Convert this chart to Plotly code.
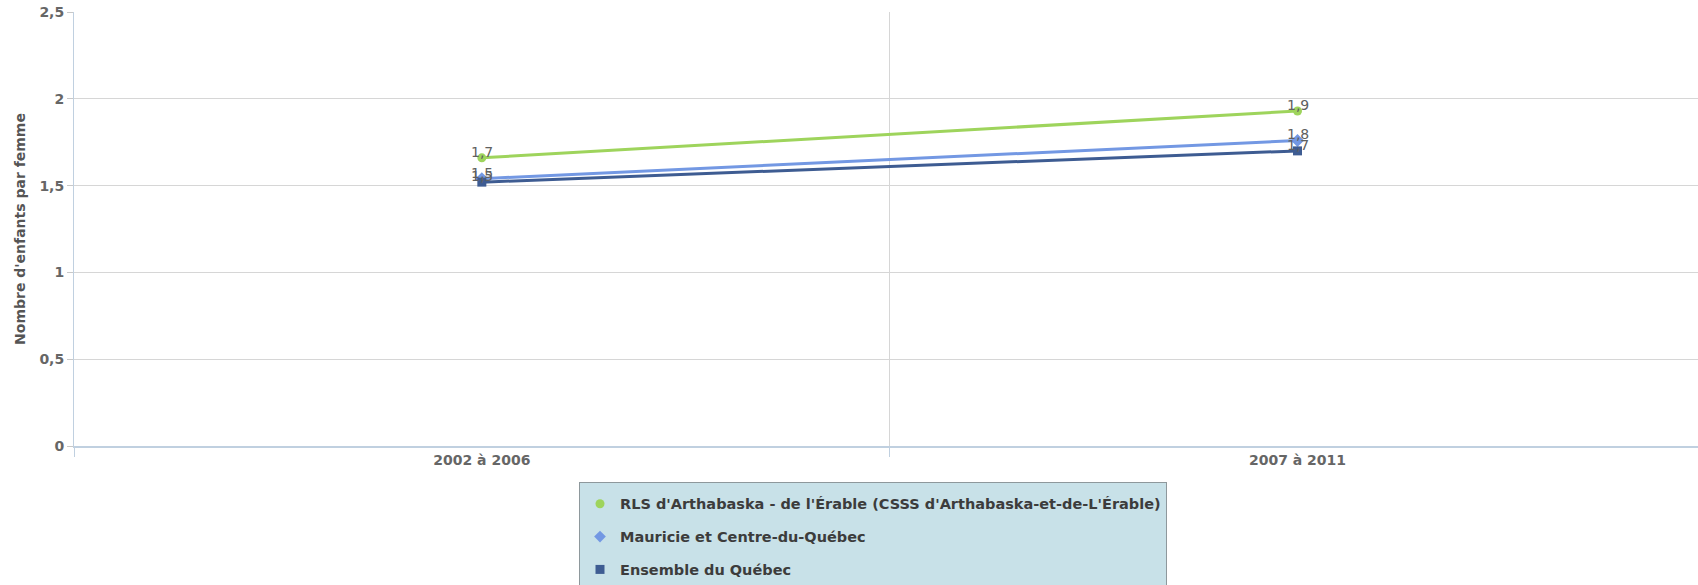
import plotly.graph_objects as go

# Periods on the category axis
periods = ["2002 à 2006", "2007 à 2011"]

# Synthetic fertility index (children per woman)
series_names = [
    "RLS d'Arthabaska - de l'Érable (CSSS d'Arthabaska-et-de-L'Érable)",
    "Mauricie et Centre-du-Québec",
    "Ensemble du Québec",
]
rls_values = [1.66, 1.93]
mauricie_values = [1.54, 1.76]
quebec_values = [1.52, 1.70]

series_values = [rls_values, mauricie_values, quebec_values]
series_colors = ["#9ED45C", "#7398E3", "#3E5C92"]
series_symbols = ["circle", "diamond", "square"]
symbol_sizes = [9, 10, 9]

y_ticks = [0, 0.5, 1, 1.5, 2, 2.5]

fig = go.Figure()

for name, vals, color, sym, size in zip(series_names, series_values,
                                        series_colors, series_symbols, symbol_sizes):
    fig.add_trace(go.Scatter(
        x=periods, y=vals, mode="lines+markers", name=name,
        line=dict(color=color, width=3),
        marker=dict(symbol=sym, size=size, color=color),
        showlegend=False, hoverinfo="skip",
    ))

# Legend entries show the marker symbol only
for i, (name, color, sym) in enumerate(zip(series_names, series_colors, series_symbols)):
    fig.add_trace(go.Scatter(
        x=[None], y=[None], mode="markers", name=name,
        marker=dict(symbol=sym, size=9, color=color),
        legendgroup=f"g{i}", showlegend=True,
    ))

# Value labels above each point
for vals in series_values:
    for p, v in zip(periods, vals):
        fig.add_annotation(
            x=p, y=v, text=f"{v:.1f}".replace(".", ","),
            showarrow=False, yanchor="middle", yshift=6,
            font=dict(family="DejaVu Sans", size=14, color="#606060"),
        )

fig.update_layout(
    width=1698, height=585,
    margin=dict(l=74, r=0, t=12, b=139, autoexpand=False),
    paper_bgcolor="white", plot_bgcolor="white",
    separators=", ",
    showlegend=True,
    legend=dict(
        x=(579 - 74) / 1624, y=-0.082, xanchor="left", yanchor="top",
        bgcolor="#C8E1E8", bordercolor="#8E989C", borderwidth=1,
        font=dict(family="DejaVu Sans", size=14.5, color="#3C3C3C", weight="bold"),
        title=dict(text=" ", font=dict(size=4)),
        traceorder="grouped", tracegroupgap=11, itemwidth=30,
    ),
    xaxis=dict(
        type="category", categoryorder="array", categoryarray=periods,
        range=[-0.5, 1.491],
        tickson="boundaries", ticks="outside", ticklen=9, tickcolor="#C0D0E0",
        showgrid=True, gridcolor="#D6D6D6", gridwidth=1,
        showline=True, linecolor="#C0D0E0", linewidth=2,
        tickfont=dict(family="DejaVu Sans", size=14, color="#666666", weight="bold"),
        fixedrange=True,
    ),
    yaxis=dict(
        range=[0, 2.5], tickvals=y_ticks,
        tickformat=".1~f",
        ticks="outside", ticklen=6, tickcolor="#C8C8C8",
        showgrid=True, gridcolor="#D6D6D6", gridwidth=1,
        showline=True, linecolor="#C0D0E0", linewidth=1,
        zeroline=False,
        tickfont=dict(family="DejaVu Sans", size=14, color="#666666", weight="bold"),
        title=dict(
            text="Nombre d'enfants par femme", standoff=10,
            font=dict(family="DejaVu Sans", size=14, color="#555555", weight="bold"),
        ),
        automargin=False,
        fixedrange=True,
    ),
)

fig.write_html("out.html")
